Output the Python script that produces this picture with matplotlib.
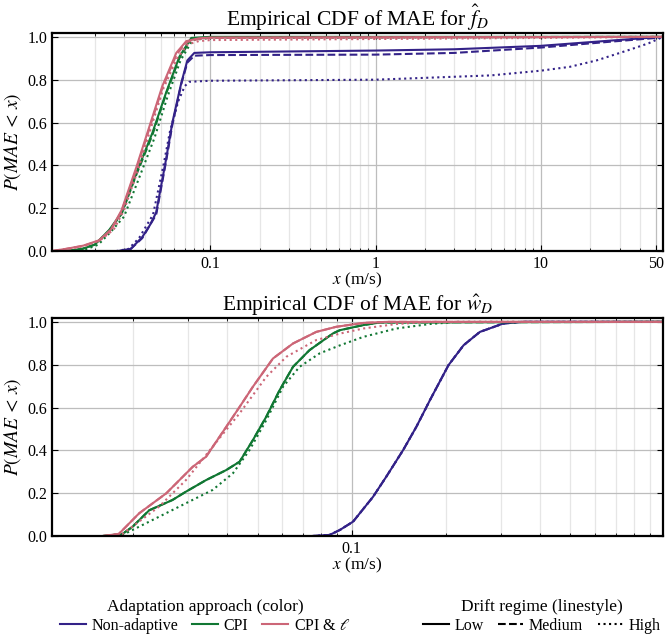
import matplotlib
matplotlib.use("Agg")
import matplotlib.pyplot as plt
from matplotlib.lines import Line2D
from matplotlib.ticker import FixedLocator, LogLocator, NullFormatter, FuncFormatter

plt.rcParams['font.family'] = ['Liberation Serif', 'DejaVu Serif']
plt.rcParams['mathtext.fontset'] = 'stix'

# ---------------- data: top panel (f_D) ----------------
fd_na_low_x = [0.028, 0.033, 0.0387, 0.043, 0.047, 0.054, 0.0589, 0.0667, 0.0726, 0.080, 0.1, 1, 3, 10, 27, 50, 55]
fd_na_low_p = [0, 0.01, 0.065, 0.12, 0.18, 0.43, 0.60, 0.785, 0.89, 0.925, 0.928, 0.936, 0.942, 0.958, 0.983, 0.998, 1.0]
fd_na_med_x = [0.028, 0.033, 0.0387, 0.047, 0.054, 0.0589, 0.0667, 0.0726, 0.080, 0.1, 1, 3, 10, 27, 50, 55]
fd_na_med_p = [0, 0.01, 0.06, 0.17, 0.42, 0.59, 0.78, 0.88, 0.912, 0.915, 0.917, 0.925, 0.950, 0.978, 0.995, 1.0]
fd_na_high_x = [0.027, 0.032, 0.037, 0.045, 0.052, 0.057, 0.064, 0.070, 0.0745, 0.1, 1, 5, 10, 15, 21.8, 34.6, 45, 55]
fd_na_high_p = [0, 0.01, 0.06, 0.17, 0.40, 0.56, 0.70, 0.77, 0.79, 0.795, 0.80, 0.82, 0.842, 0.86, 0.89, 0.94, 0.97, 1.0]

fd_cpi_low_x = [0.0135, 0.0168, 0.020, 0.0244, 0.029, 0.0356, 0.0445, 0.054, 0.0649, 0.0767, 0.1, 55]
fd_cpi_low_p = [0, 0.01, 0.03, 0.098, 0.178, 0.364, 0.55, 0.74, 0.907, 0.995, 1.0, 1.0]
fd_cpi_med_x = [0.0135, 0.0168, 0.020, 0.0244, 0.029, 0.0356, 0.0445, 0.054, 0.0649, 0.0767, 0.1, 55]
fd_cpi_med_p = [0, 0.01, 0.03, 0.095, 0.172, 0.355, 0.54, 0.735, 0.90, 0.99, 0.998, 1.0]
fd_cpi_high_x = [0.015, 0.018, 0.021, 0.025, 0.030, 0.037, 0.046, 0.055, 0.066, 0.078, 0.1, 55]
fd_cpi_high_p = [0, 0.01, 0.03, 0.09, 0.16, 0.34, 0.53, 0.72, 0.89, 0.985, 0.995, 1.0]

fd_cpil_low_x = [0.011, 0.0134, 0.0170, 0.0212, 0.025, 0.029, 0.0356, 0.0427, 0.0512, 0.0622, 0.0715, 0.085, 0.1, 55]
fd_cpil_low_p = [0, 0.01, 0.025, 0.05, 0.10, 0.19, 0.39, 0.58, 0.77, 0.925, 0.98, 0.993, 0.997, 1.0]
fd_cpil_med_x = [0.011, 0.0134, 0.0170, 0.0212, 0.025, 0.029, 0.0356, 0.0427, 0.0512, 0.0622, 0.0715, 0.085, 0.1, 55]
fd_cpil_med_p = [0, 0.01, 0.024, 0.048, 0.097, 0.185, 0.38, 0.57, 0.76, 0.915, 0.975, 0.99, 0.995, 1.0]
fd_cpil_high_x = [0.012, 0.0140, 0.0175, 0.0215, 0.026, 0.030, 0.0365, 0.0435, 0.052, 0.063, 0.073, 0.085, 0.1, 1, 10, 55]
fd_cpil_high_p = [0, 0.01, 0.025, 0.05, 0.10, 0.19, 0.38, 0.57, 0.76, 0.90, 0.965, 0.98, 0.985, 0.99, 0.995, 1.0]

# ---------------- data: bottom panel (w_D) ----------------
wd_na_x = [0.075, 0.085, 0.0916, 0.101, 0.117, 0.129, 0.146, 0.161, 0.178, 0.204, 0.228, 0.257, 0.305, 0.35, 1.0]
wd_na_p = [0, 0.005, 0.028, 0.067, 0.183, 0.277, 0.401, 0.51, 0.635, 0.798, 0.891, 0.953, 0.992, 1.0, 1.0]

wd_cpi_low_x = [0.016, 0.0185, 0.0199, 0.0225, 0.0267, 0.0295, 0.0342, 0.0397, 0.0438, 0.0483, 0.0533, 0.0588,
                0.0649, 0.0733, 0.0871, 0.0916, 0.109, 0.123, 1.0]
wd_cpi_low_p = [0, 0.01, 0.043, 0.12, 0.168, 0.207, 0.261, 0.308, 0.347, 0.448, 0.557, 0.681,
                0.79, 0.868, 0.946, 0.961, 0.985, 0.997, 1.0]
wd_cpi_high_x = [0.017, 0.0185, 0.0199, 0.0242, 0.0295, 0.0359, 0.0417, 0.0471, 0.0533, 0.0603, 0.0681, 0.079,
                 0.0916, 0.109, 0.139, 0.178, 0.22, 1.0]
wd_cpi_high_p = [0, 0.005, 0.028, 0.09, 0.153, 0.215, 0.293, 0.401, 0.541, 0.697, 0.79, 0.853,
                 0.89, 0.93, 0.969, 0.99, 1.0, 1.0]

wd_cpil_low_x = [0.016, 0.018, 0.0209, 0.0255, 0.031, 0.0342, 0.0397, 0.0438, 0.0483, 0.056, 0.0649, 0.077,
                 0.0893, 0.109, 0.13, 1.0]
wd_cpil_low_p = [0, 0.01, 0.106, 0.199, 0.323, 0.37, 0.51, 0.603, 0.697, 0.829, 0.899, 0.953,
                 0.977, 0.995, 1.0, 1.0]
wd_cpil_high_x = [0.017, 0.0185, 0.0242, 0.0295, 0.0359, 0.0438, 0.0533, 0.0618, 0.077, 0.0916, 0.109, 0.139,
                  0.178, 1.0]
wd_cpil_high_p = [0, 0.01, 0.137, 0.261, 0.417, 0.573, 0.743, 0.837, 0.915, 0.945, 0.969, 0.99,
                  1.0, 1.0]

approaches = ["Non-adaptive", "CPI", r"CPI & $\ell$"]
colors = ["#332288", "#117733", "#CC6677"]
regimes = ["Low", "Medium", "High"]
styles = ["-", "--", ":"]

top_curves = [
    (0, 0, fd_na_low_x, fd_na_low_p), (0, 1, fd_na_med_x, fd_na_med_p), (0, 2, fd_na_high_x, fd_na_high_p),
    (1, 0, fd_cpi_low_x, fd_cpi_low_p), (1, 1, fd_cpi_med_x, fd_cpi_med_p), (1, 2, fd_cpi_high_x, fd_cpi_high_p),
    (2, 0, fd_cpil_low_x, fd_cpil_low_p), (2, 1, fd_cpil_med_x, fd_cpil_med_p), (2, 2, fd_cpil_high_x, fd_cpil_high_p),
]
bottom_curves = [
    (0, 0, wd_na_x, wd_na_p), (0, 1, wd_na_x, wd_na_p), (0, 2, wd_na_x, wd_na_p),
    (1, 0, wd_cpi_low_x, wd_cpi_low_p), (1, 1, wd_cpi_low_x, wd_cpi_low_p), (1, 2, wd_cpi_high_x, wd_cpi_high_p),
    (2, 0, wd_cpil_low_x, wd_cpil_low_p), (2, 1, wd_cpil_low_x, wd_cpil_low_p), (2, 2, wd_cpil_high_x, wd_cpil_high_p),
]

fig = plt.figure(figsize=(6.65, 6.37), dpi=100)
W, H = 665, 637
ax1 = fig.add_axes([52 / W, 1 - 251 / H, 611 / W, 218 / H])
ax2 = fig.add_axes([52 / W, 1 - 536 / H, 611 / W, 218 / H])

for ax, curves in ((ax1, top_curves), (ax2, bottom_curves)):
    for ci, si, xs, ps in curves:
        ax.plot(xs, ps, color=colors[ci], linestyle=styles[si], lw=1.5)

fmt = FuncFormatter(lambda v, pos: f"{v:g}")

def style_axes(ax, xlim, majors, title):
    ax.set_xscale('log')
    ax.set_xlim(*xlim)
    ax.set_ylim(0, 1.018)
    ax.xaxis.set_major_locator(FixedLocator(majors))
    ax.xaxis.set_major_formatter(fmt)
    ax.xaxis.set_minor_locator(LogLocator(base=10, subs=range(2, 10), numticks=20))
    ax.xaxis.set_minor_formatter(NullFormatter())
    ax.set_yticks([0, 0.2, 0.4, 0.6, 0.8, 1.0])
    ax.set_yticklabels(["0.0", "0.2", "0.4", "0.6", "0.8", "1.0"])
    ax.grid(True, which='major', color='#bdbdbd', lw=0.9)
    ax.grid(True, which='minor', axis='x', color='#e6e6e6', lw=0.9)
    ax.set_axisbelow(True)
    ax.tick_params(which='both', direction='in', top=True, right=True, labelsize=11.5)
    ax.tick_params(which='major', length=4, width=0.8)
    ax.tick_params(which='minor', length=2, width=0.6)
    for s in ax.spines.values():
        s.set_linewidth(1.6)
    ax.set_xlabel(r"$x$ (m/s)", fontsize=12.5, labelpad=-1)
    ax.set_ylabel(r"$P(MAE\,<\,x)$", fontsize=14, labelpad=3)
    ax.set_title(title, fontsize=15.5, pad=4)

style_axes(ax1, (0.011, 55), [0.1, 1, 10, 50], r"Empirical CDF of MAE for $\hat{f}_D$")
style_axes(ax2, (0.011, 0.99), [0.1], r"Empirical CDF of MAE for $\hat{w}_D$")

color_handles = [Line2D([], [], color=c, lw=1.5) for c in colors]
style_handles = [Line2D([], [], color='black', lw=1.5, linestyle=s) for s in styles]

common = dict(ncol=3, loc='upper center', frameon=False, fontsize=11.5, title_fontsize=12.5,
              handlelength=1.6, handletextpad=0.35, columnspacing=0.9, borderpad=0.1, labelspacing=0.2)
leg1 = fig.legend(color_handles, approaches, title="Adaptation approach (color)",
                  bbox_to_anchor=(205 / W, 0.075), **common)
leg2 = fig.legend(style_handles, regimes, title="Drift regime (linestyle)",
                  bbox_to_anchor=(542 / W, 0.075), **common)
for leg in (leg1, leg2):
    leg._legend_box.sep = 2

fig.savefig("out.png", dpi=100)
